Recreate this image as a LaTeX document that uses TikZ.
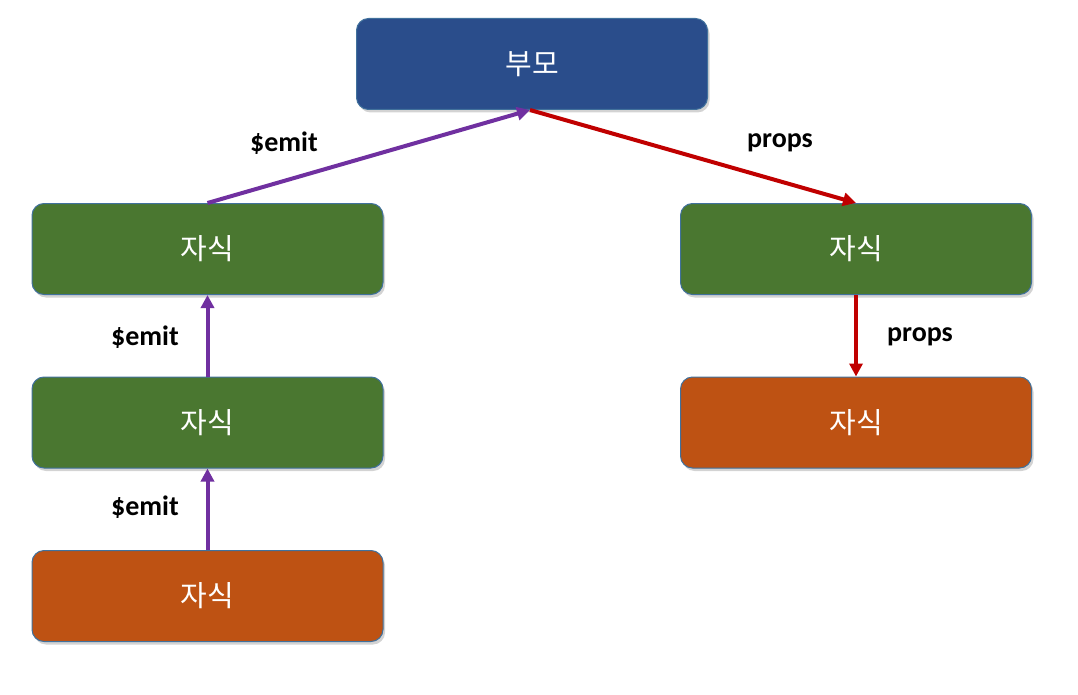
\documentclass[tikz,border=0pt]{standalone}
\usepackage{fontspec}
\newfontfamily\kofont{Noto Sans CJK KR}
\newfontfamily\lblfont{Carlito}
\usetikzlibrary{shadows,arrows.meta}
\definecolor{pblue}{HTML}{2A4D8B}
\definecolor{pgreen}{HTML}{4A7730}
\definecolor{porange}{HTML}{BE5213}
\definecolor{pedge}{HTML}{41719C}
\definecolor{ppurple}{HTML}{7030A0}
\definecolor{pred}{HTML}{C00000}
\tikzset{
  box/.style={draw=pedge, line width=1pt, rounded corners=12pt, minimum width=351pt, minimum height=91pt,
    text=white, font=\kofont\fontsize{29}{32}\selectfont,
    drop shadow={shadow xshift=2pt, shadow yshift=-3pt, opacity=0.35, fill=gray}},
  bluebox/.style={box, fill=pblue},
  greenbox/.style={box, fill=pgreen},
  orangebox/.style={box, fill=porange},
  emitarrow/.style={draw=ppurple, line width=4pt, -{Triangle[length=13pt,width=13pt]}},
  propsarrow/.style={draw=pred, line width=4pt, -{Triangle[length=13pt,width=13pt]}},
  lbl/.style={font=\lblfont\bfseries\fontsize{28}{32}\selectfont, text=black}
}
\begin{document}
\begin{tikzpicture}[x=1pt,y=-1pt]
\useasboundingbox (0,0) rectangle (1078,695);
\node[bluebox] (p) at (532,64) {부모};
\node[greenbox] (l1) at (207.5,249) {자식};
\node[greenbox] (l2) at (207.5,422.5) {자식};
\node[orangebox] (l3) at (207.5,596) {자식};
\node[greenbox] (r1) at (856,249) {자식};
\node[orangebox] (r2) at (856,422.5) {자식};
\draw[emitarrow] (l1.north) -- ([xshift=-2pt]p.south);
\draw[propsarrow] ([xshift=-2pt]p.south) -- (r1.north);
\draw[emitarrow] (l2.north) -- (l1.south);
\draw[emitarrow] (l3.north) -- (l2.south);
\draw[propsarrow] (r1.south) -- (r2.north);
\node[lbl] (e1) at (284,143) {\$emit};
\node[lbl] (e2) at (145,337) {\$emit};
\node[lbl] (e3) at (145,507) {\$emit};
\node[lbl] (q1) at (780,143) {props};
\node[lbl] (q2) at (920,337) {props};
\end{tikzpicture}
\end{document}
